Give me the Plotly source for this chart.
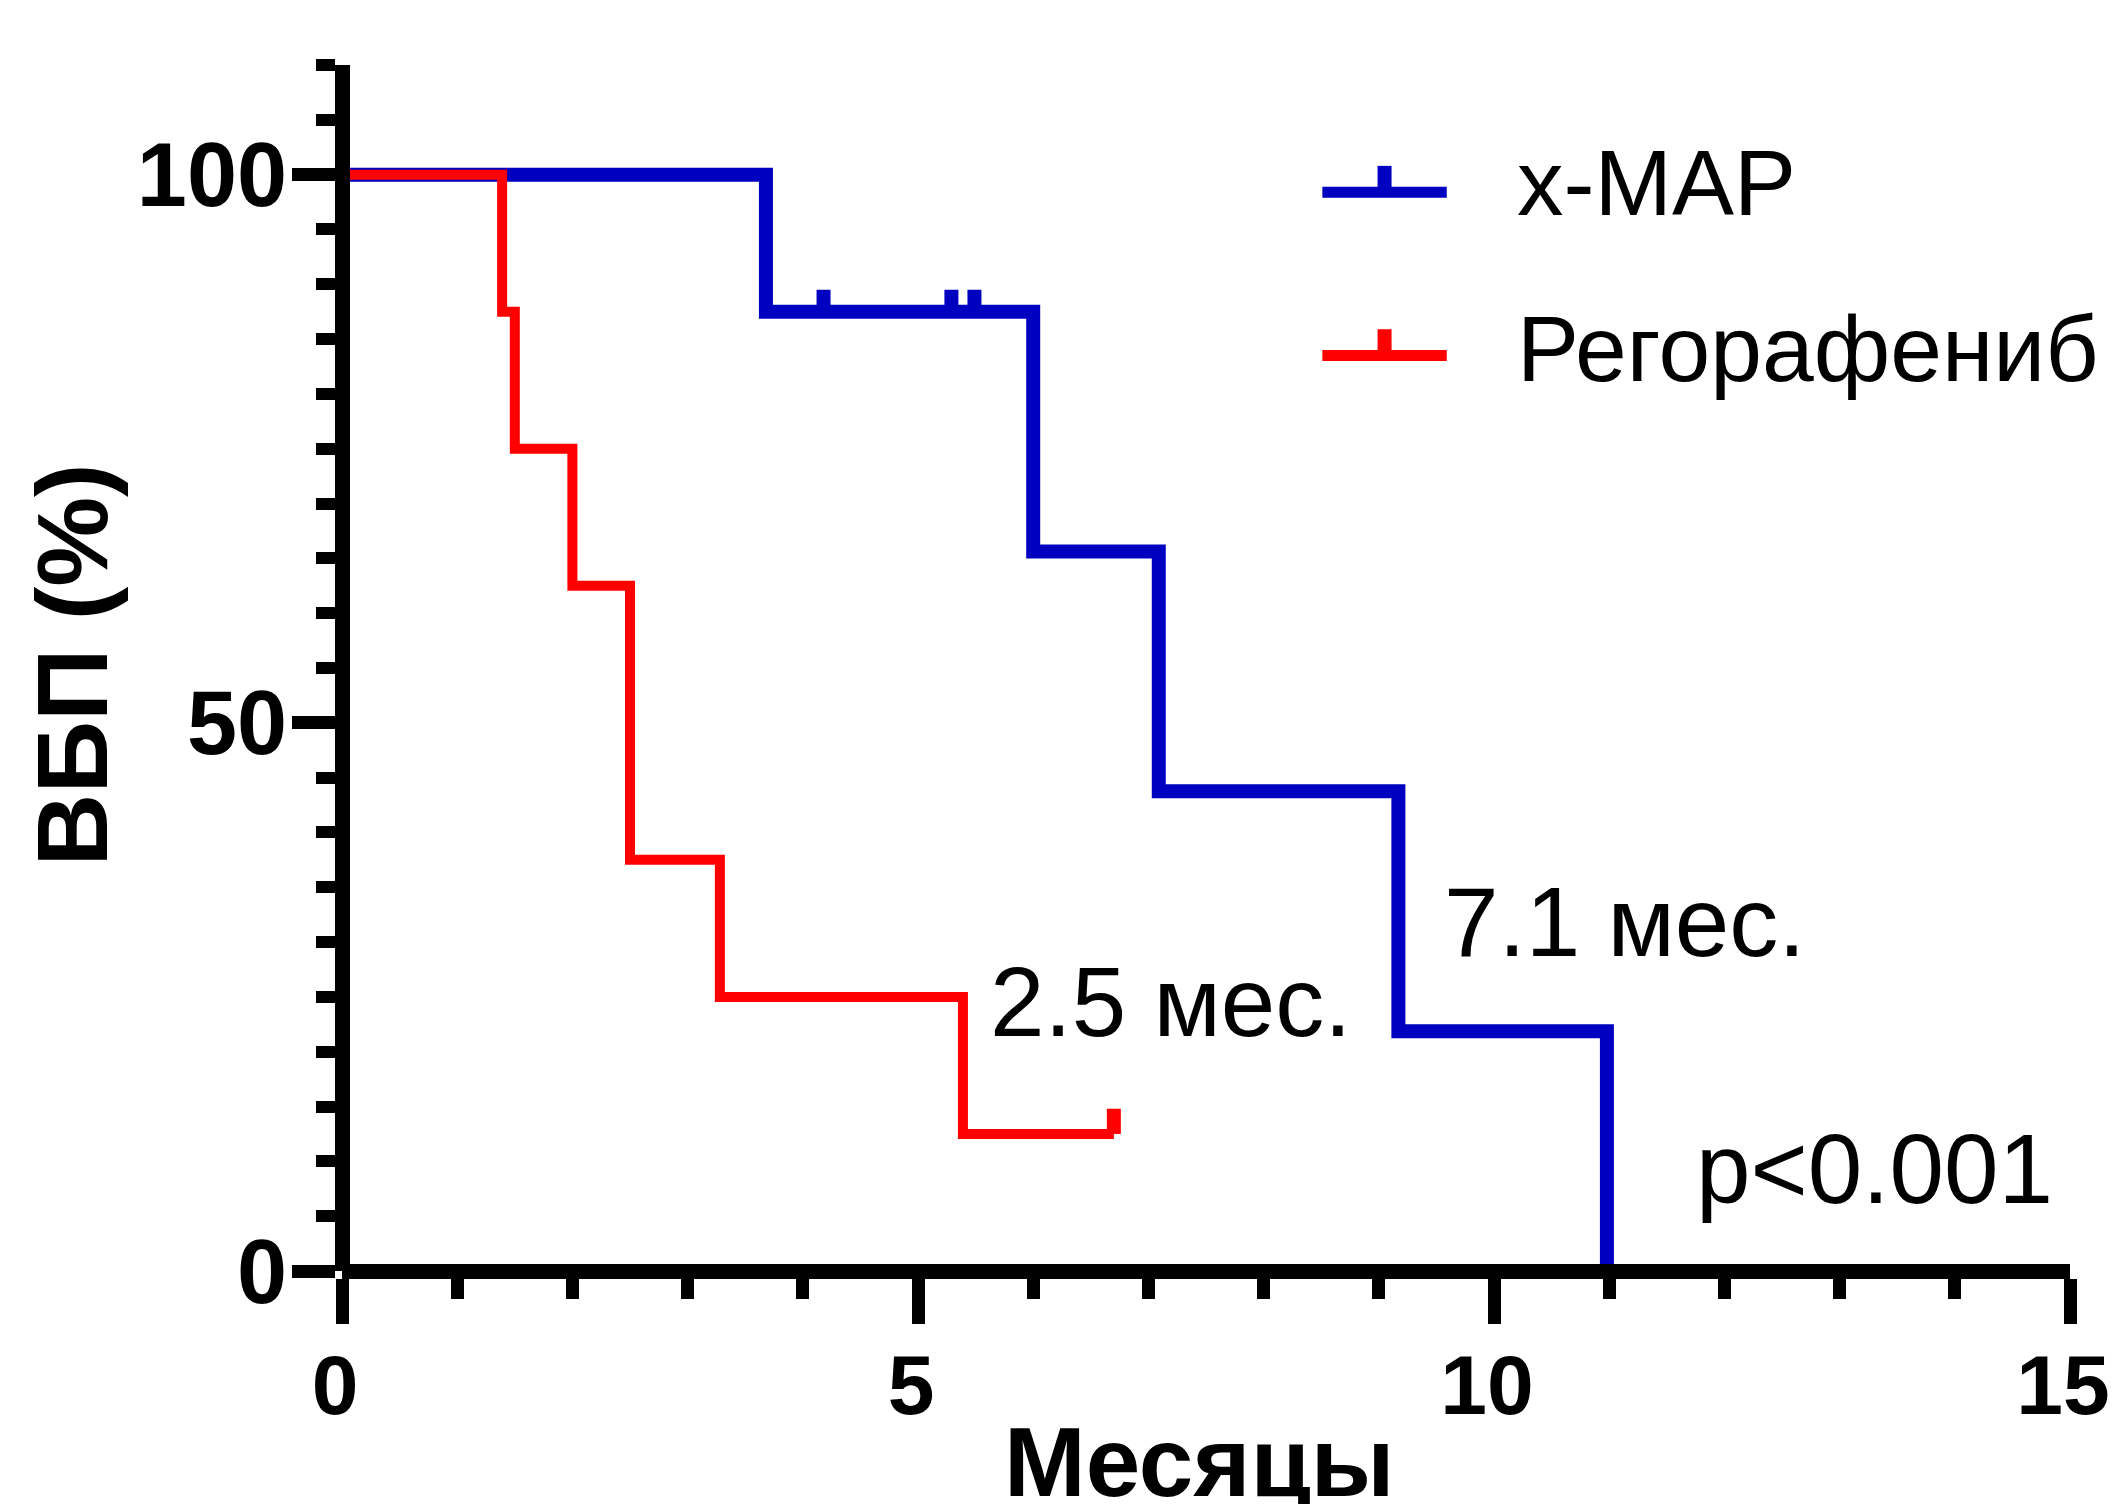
import plotly.graph_objects as go

# ---- data ----
xmap_t = [0, 3.68, 6.0, 7.09, 9.17, 10.98]
xmap_s = [100, 87.5, 65.625, 43.75, 21.875, 0]
xmap_cens_t = [4.18, 5.29, 5.49]
xmap_cens_s = [87.5, 87.5, 87.5]

rego_t = [0, 1.39, 1.50, 2.0, 2.5, 3.28, 5.39, 6.70]
rego_s = [100, 87.5, 75, 62.5, 37.5, 25, 12.5, 12.5]
rego_cens_t = [6.70]
rego_cens_s = [12.5]

series_names = ["x-MAP", "Регорафениб"]
median_labels = ["7.1 мес.", "2.5 мес."]
p_label = "p<0.001"
x_title = "Месяцы"
y_title = "ВБП (%)"
x_ticks = [0, 5, 10, 15]
y_ticks = [0, 50, 100]

BLUE = "#0000C0"
RED = "#FF0000"
FONT = "Liberation Sans, Arial, sans-serif"

fig = go.Figure()

fig.add_trace(go.Scatter(x=xmap_t, y=xmap_s, mode="lines", line=dict(shape="hv", color=BLUE, width=14),
                         name=series_names[0], showlegend=False))
fig.add_trace(go.Scatter(x=rego_t, y=rego_s, mode="lines", line=dict(shape="hv", color=RED, width=10),
                         name=series_names[1], showlegend=False))
# censor ticks (drawn upward as error bars)
fig.add_trace(go.Scatter(x=xmap_cens_t, y=xmap_cens_s, mode="markers", marker=dict(size=1, color=BLUE),
                         error_y=dict(type="constant", value=2.0, symmetric=False, valueminus=0,
                                      color=BLUE, thickness=14, width=0),
                         showlegend=False, hoverinfo="skip"))
fig.add_trace(go.Scatter(x=rego_cens_t, y=rego_cens_s, mode="markers", marker=dict(size=1, color=RED),
                         error_y=dict(type="constant", value=2.3, symmetric=False, valueminus=0,
                                      color=RED, thickness=14, width=0),
                         showlegend=False, hoverinfo="skip"))

# manual legend (line sample + censor tick + label)
leg_x0, leg_x1, leg_xm = 8.51, 9.59, 9.05
leg_y = [98.4, 83.5]
leg_text_y = [99.2, 84.1]
leg_colors = [BLUE, RED]
shapes = []
annotations = []
for i in range(2):
    shapes.append(dict(type="line", xref="x", yref="y", x0=leg_x0, x1=leg_x1, y0=leg_y[i], y1=leg_y[i],
                       line=dict(color=leg_colors[i], width=11)))
    shapes.append(dict(type="line", xref="x", yref="y", x0=leg_xm, x1=leg_xm, y0=leg_y[i], y1=leg_y[i] + 2.4,
                       line=dict(color=leg_colors[i], width=14)))
    annotations.append(dict(x=10.18, y=leg_text_y[i], xref="x", yref="y", text=series_names[i],
                            showarrow=False, xanchor="left", yanchor="middle",
                            font=dict(family=FONT, size=93, color="black")))

annotations.append(dict(x=11.14, y=31.8, xref="x", yref="y", text=median_labels[0], showarrow=False,
                        xanchor="center", yanchor="middle", font=dict(family=FONT, size=98, color="black")))
annotations.append(dict(x=7.20, y=24.5, xref="x", yref="y", text=median_labels[1], showarrow=False,
                        xanchor="center", yanchor="middle", font=dict(family=FONT, size=98, color="black")))
annotations.append(dict(x=13.30, y=9.3, xref="x", yref="y", text=p_label, showarrow=False,
                        xanchor="center", yanchor="middle", font=dict(family=FONT, size=98, color="black")))

# axis titles (placed as annotations for exact positioning)
annotations.append(dict(x=0.496, y=-0.1585, xref="paper", yref="paper", text=x_title, showarrow=False,
                        xanchor="center", yanchor="middle",
                        font=dict(family=FONT, size=98, color="black", weight="bold")))
annotations.append(dict(x=-0.1565, y=0.5025, xref="paper", yref="paper", text=y_title, showarrow=False,
                        textangle=-90, xanchor="center", yanchor="middle",
                        font=dict(family=FONT, size=101, color="black", weight="bold")))

# the page body has an 8px margin on every side; size the figure so the page never overflows
fig.update_layout(
    width=2101, height=1496, autosize=False,
    margin=dict(l=334, r=39, t=57, b=233, pad=0),
    paper_bgcolor="white", plot_bgcolor="white",
    shapes=shapes, annotations=annotations,
    showlegend=False,
    xaxis=dict(range=[0, 15], anchor="free", position=0, automargin=False,
               showline=True, linewidth=15, linecolor="black",
               ticks="outside", ticklen=45, tickwidth=13, tickcolor="black",
               tickvals=x_ticks, ticktext=[str(v) for v in x_ticks],
               tickfont=dict(family=FONT, size=84, color="black", weight="bold"),
               ticklabelstandoff=-11, ticklabelshift=-7, ticklabeloverflow="allow",
               minor=dict(tickvals=list(range(0, 16)), ticks="outside", ticklen=20, tickwidth=13, tickcolor="black"),
               showgrid=False, zeroline=False),
    yaxis=dict(range=[0, 110], anchor="free", position=0, automargin=False,
               showline=True, linewidth=15, linecolor="black",
               ticks="outside", ticklen=43, tickwidth=13, tickcolor="black",
               tickvals=y_ticks, ticktext=[str(v) for v in y_ticks],
               tickfont=dict(family=FONT, size=90, color="black", weight="bold"),
               ticklabelstandoff=-13, ticklabeloverflow="allow",
               minor=dict(tickvals=list(range(0, 111, 5)), ticks="outside", ticklen=19, tickwidth=12, tickcolor="black"),
               showgrid=False, zeroline=False),
)

fig.write_html("out.html")
